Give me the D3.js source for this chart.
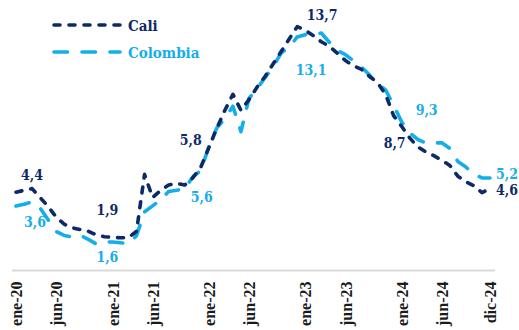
<!DOCTYPE html>
<html>
<head>
<meta charset="utf-8">
<script src="https://cdn.jsdelivr.net/npm/d3@7/dist/d3.min.js"></script>
<style>
  html, body { margin: 0; padding: 0; background: #ffffff; }
  svg { display: block; }
  .lbl { font-family: "DejaVu Serif Condensed", "DejaVu Serif", serif; font-stretch: condensed; font-weight: bold; }
  .tick text { font-family: "Liberation Serif", "Times New Roman", serif; font-weight: bold; font-size: 16px; fill: #1a1a1a; }
</style>
</head>
<body>
<svg id="chart" width="519" height="330"></svg>
<script>
// Monthly series, ene-20 .. dic-24 (60 months)
const months = [];
const mesNames = ["ene","feb","mar","abr","may","jun","jul","ago","sep","oct","nov","dic"];
for (let yr = 20; yr <= 24; yr++) for (let m = 0; m < 12; m++) months.push(mesNames[m] + "-" + yr);

const cali = [
  4.4, 4.5, 4.6, 4.1, 3.6, 3.0, 2.6, 2.4, 2.3, 2.2, 2.0, 1.9,
  1.86, 1.84, 1.84, 2.2, 5.4, 4.1, 4.5, 4.8, 4.9, 4.8, 5.2, 5.8,
  6.9, 8.0, 9.0, 9.9, 9.0, 9.6, 10.3, 10.9, 11.6, 12.3, 13.0, 13.7,
  13.5, 13.2, 12.85, 12.6, 12.2, 11.8, 11.5, 11.3, 10.9, 10.55, 9.9, 8.7,
  8.1, 7.45, 6.95, 6.67, 6.45, 6.2, 5.9, 5.3, 4.98, 4.76, 4.37, 4.6
];

const colombia = [
  3.62, 3.72, 3.86, 3.51, 2.85, 2.19, 1.97, 1.88, 1.97, 1.75, 1.49, 1.61,
  1.60, 1.56, 1.51, 1.95, 3.30, 3.63, 3.97, 4.44, 4.51, 4.58, 5.26, 5.62,
  6.94, 8.01, 8.53, 9.23, 7.8, 9.67, 10.21, 10.84, 11.44, 12.22, 12.53, 13.12,
  13.25, 13.28, 13.34, 12.82, 12.36, 12.13, 11.78, 11.43, 10.99, 10.48, 10.15, 9.28,
  8.35, 7.74, 7.36, 7.16, 7.16, 7.18, 6.86, 6.12, 5.81, 5.41, 5.20, 5.20
];

const tickLabels = ["ene-20","jun-20","ene-21","jun-21","ene-22","jun-22","ene-23","jun-23","ene-24","jun-24","dic-24"];

// Months that carry a value label
const labelMonths = ["ene-20","dic-20","dic-21","dic-22","dic-23","dic-24"];

const series = [
  { name: "Cali", values: cali, color: "#0c2a67", dash: "6,9" },
  { name: "Colombia", values: colombia, color: "#14aeea", dash: "13.5,14.5" }
];

// Label offsets (dx, dy to baseline) per series, in order of labelMonths
const labelOffsets = {
  "Cali":     [[16,-12],[3,-22],[-10,-22],[25,-7],[1,32],[17,6]],
  "Colombia": [[19,21],[3,20],[1,32],[14,38],[33,10],[17,1]]
};

const svg = d3.select("#chart");

const x = d3.scalePoint().domain(months).range([16, 490]);
const y = d3.scaleLinear().domain([0, 15]).range([270.5, 3.5]);

// Baseline
svg.append("line")
  .attr("x1", 12).attr("x2", 495)
  .attr("y1", y(0)).attr("y2", y(0))
  .attr("stroke", "#d9d9d9").attr("stroke-width", 2);

// Category axis with vertical labels
const xAxis = d3.axisBottom(x).tickValues(tickLabels).tickSize(0).tickPadding(0);
const gx = svg.append("g").attr("transform", `translate(0,${y(0)})`).call(xAxis);
gx.select(".domain").remove();
gx.selectAll(".tick text")
  .attr("transform", "rotate(-90)")
  .attr("text-anchor", "end")
  .attr("x", -11)
  .attr("y", 0)
  .attr("dy", "0.36em");

const line = d3.line()
  .x((d, i) => x(months[i]))
  .y(d => y(d));

// Colombia first so Cali sits on top
[series[1], series[0]].forEach(s => {
  svg.append("path")
    .datum(s.values)
    .attr("d", line)
    .attr("fill", "none")
    .attr("stroke", s.color)
    .attr("stroke-width", 3.6)
    .attr("stroke-linecap", "round")
    .attr("stroke-linejoin", "round")
    .attr("stroke-dasharray", s.dash);
});

// Value labels
series.forEach(s => {
  labelMonths.forEach((m, k) => {
    const i = months.indexOf(m);
    const v = s.values[i];
    const [dx, dy] = labelOffsets[s.name][k];
    svg.append("text")
      .attr("class", "lbl")
      .attr("x", x(m) + dx)
      .attr("y", y(v) + dy)
      .attr("text-anchor", "middle")
      .attr("font-size", 14)
      .attr("fill", s.color)
      .text(d3.format(".1f")(v).replace(".", ","));
  });
});

// Legend
const legend = svg.append("g");
series.forEach((s, k) => {
  const ly = 25 + k * 27;
  legend.append("line")
    .attr("x1", 54).attr("x2", 120)
    .attr("y1", ly).attr("y2", ly)
    .attr("stroke", s.color)
    .attr("stroke-width", 3.6)
    .attr("stroke-linecap", "round")
    .attr("stroke-dasharray", s.dash);
  legend.append("text")
    .attr("class", "lbl")
    .attr("x", 128)
    .attr("y", ly + 6)
    .attr("font-size", 15)
    .attr("fill", s.color)
    .text(s.name);
});
</script>
</body>
</html>
